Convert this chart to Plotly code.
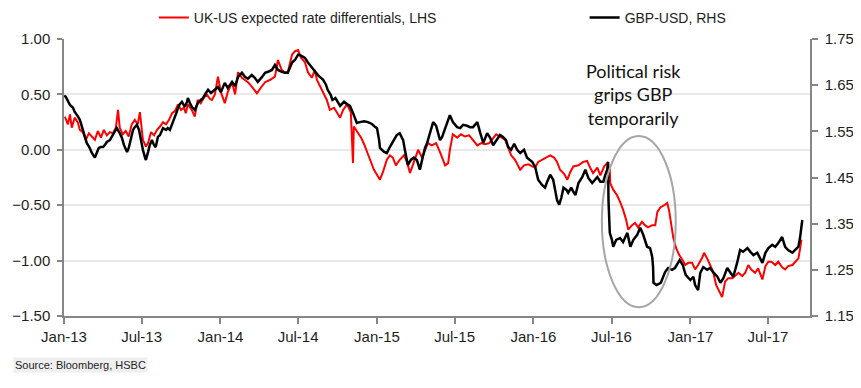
import plotly.graph_objects as go

# UK-US expected rate differentials (LHS, percentage points)
red_dates = [
    "2013-01-03","2013-01-10","2013-01-15","2013-01-19","2013-01-26","2013-02-02","2013-02-07","2013-02-14",
    "2013-02-21","2013-02-28","2013-03-07","2013-03-14","2013-03-21","2013-03-28","2013-04-04","2013-04-11",
    "2013-04-18","2013-04-25","2013-05-02","2013-05-07","2013-05-11","2013-05-18","2013-05-25","2013-06-01",
    "2013-06-08","2013-06-15","2013-06-22","2013-06-27","2013-07-04","2013-07-11","2013-07-16","2013-07-23",
    "2013-07-30","2013-08-06","2013-08-13","2013-08-20","2013-08-27","2013-09-03","2013-09-10","2013-09-17",
    "2013-09-24","2013-10-01","2013-10-08","2013-10-12","2013-10-17","2013-10-26","2013-11-02","2013-11-09",
    "2013-11-16","2013-11-23","2013-11-30","2013-12-07","2013-12-12","2013-12-19","2013-12-26","2014-01-02",
    "2014-01-11","2014-01-18","2014-01-28","2014-02-04","2014-02-11","2014-02-20","2014-02-27","2014-03-06",
    "2014-03-15","2014-03-22","2014-03-27","2014-04-05","2014-04-15","2014-04-26","2014-05-08","2014-05-15",
    "2014-05-24","2014-05-31","2014-06-07","2014-06-17","2014-06-24","2014-07-01","2014-07-08","2014-07-17",
    "2014-07-24","2014-08-02","2014-08-09","2014-08-14","2014-08-26","2014-09-06","2014-09-13","2014-09-23",
    "2014-10-02","2014-10-07","2014-10-14","2014-10-23","2014-11-01","2014-11-06","2014-11-08","2014-11-18",
    "2014-11-25","2014-12-02","2014-12-11","2014-12-18","2014-12-25","2015-01-01","2015-01-08","2015-01-15",
    "2015-01-24","2015-01-31","2015-02-07","2015-02-14","2015-02-23","2015-03-05","2015-03-12","2015-03-19",
    "2015-03-28","2015-04-07","2015-04-16","2015-04-23","2015-04-30","2015-05-09","2015-05-19","2015-05-28",
    "2015-06-04","2015-06-09","2015-06-16","2015-06-20","2015-06-27","2015-07-07","2015-07-16","2015-07-25",
    "2015-08-04","2015-08-13","2015-08-23","2015-09-01","2015-09-10","2015-09-20","2015-09-29","2015-10-06",
    "2015-10-15","2015-10-27","2015-11-03","2015-11-10","2015-11-19","2015-11-26","2015-12-01","2015-12-10",
    "2015-12-20","2015-12-29","2016-01-05","2016-01-12","2016-01-21","2016-01-31","2016-02-09","2016-02-18",
    "2016-02-25","2016-03-03","2016-03-13","2016-03-20","2016-03-27","2016-04-03","2016-04-15","2016-04-26",
    "2016-05-05","2016-05-12","2016-05-19","2016-05-29","2016-06-05","2016-06-14","2016-06-21","2016-06-27",
    "2016-06-28","2016-07-05","2016-07-14","2016-07-21","2016-07-28","2016-08-04","2016-08-09","2016-08-18",
    "2016-08-25","2016-09-01","2016-09-10","2016-09-17","2016-09-24","2016-10-04","2016-10-11","2016-10-16",
    "2016-10-23","2016-11-01","2016-11-08","2016-11-12","2016-11-17","2016-11-22","2016-11-29","2016-12-06",
    "2016-12-13","2016-12-20","2016-12-27","2017-01-05","2017-01-12","2017-01-19","2017-01-29","2017-02-02",
    "2017-02-09","2017-02-16","2017-02-23","2017-03-02","2017-03-09","2017-03-16","2017-03-23","2017-03-30",
    "2017-04-09","2017-04-16","2017-04-23","2017-05-02","2017-05-09","2017-05-16","2017-05-23","2017-06-01",
    "2017-06-08","2017-06-18","2017-06-25","2017-07-02","2017-07-09","2017-07-18","2017-07-25","2017-08-03",
    "2017-08-10","2017-08-17","2017-08-27","2017-09-03","2017-09-10","2017-09-14","2017-09-17",
]
red_values = [
    0.30, 0.23, 0.32, 0.20, 0.29, 0.25, 0.18, 0.16,
    0.09, 0.15, 0.12, 0.09, 0.17, 0.11, 0.18, 0.13,
    0.16, 0.15, 0.20, 0.36, 0.20, 0.14, 0.17, 0.12,
    0.23, 0.27, 0.23, 0.34, 0.09, 0.03, 0.06, 0.16,
    0.13, 0.18, 0.21, 0.25, 0.23, 0.27, 0.33, 0.35,
    0.41, 0.36, 0.38, 0.33, 0.41, 0.36, 0.30, 0.45,
    0.42, 0.47, 0.50, 0.46, 0.45, 0.50, 0.66, 0.52,
    0.42, 0.52, 0.61, 0.50, 0.70, 0.65, 0.63, 0.61,
    0.57, 0.54, 0.51, 0.56, 0.61, 0.63, 0.66, 0.81,
    0.72, 0.70, 0.70, 0.86, 0.89, 0.90, 0.83, 0.79,
    0.70, 0.65, 0.72, 0.63, 0.54, 0.45, 0.36, 0.38,
    0.32, 0.29, 0.36, 0.41, 0.34, -0.12, 0.21, 0.15,
    0.11, 0.05, -0.05, -0.11, -0.18, -0.23, -0.27, -0.20,
    -0.09, -0.05, -0.07, -0.14, -0.09, -0.05, -0.11, -0.21,
    -0.11, 0.00, -0.07, 0.00, 0.06, 0.04, 0.06, -0.02,
    -0.09, -0.14, -0.12, 0.00, 0.14, 0.11, 0.14, 0.12,
    0.13, 0.09, 0.04, 0.06, 0.05, 0.06, 0.11, 0.14,
    0.12, 0.09, 0.02, -0.05, -0.09, -0.14, -0.18, -0.14,
    -0.13, -0.15, -0.16, -0.11, -0.09, -0.07, -0.05, -0.07,
    -0.11, -0.18, -0.22, -0.27, -0.20, -0.15, -0.14, -0.11,
    -0.10, -0.16, -0.21, -0.16, -0.23, -0.15, -0.12, -0.18,
    -0.30, -0.36, -0.41, -0.47, -0.54, -0.63, -0.72, -0.68,
    -0.66, -0.70, -0.65, -0.68, -0.70, -0.68, -0.68, -0.56,
    -0.52, -0.50, -0.48, -0.54, -0.68, -0.79, -0.89, -0.95,
    -0.99, -1.04, -1.02, -1.02, -1.08, -1.04, -0.97, -0.93,
    -0.98, -1.04, -1.10, -1.22, -1.28, -1.33, -1.19, -1.16,
    -1.16, -1.13, -1.11, -1.14, -1.11, -1.04, -1.08, -1.11,
    -1.07, -1.17, -1.05, -1.01, -1.01, -1.04, -1.01, -1.06,
    -1.08, -1.05, -1.04, -1.01, -0.98, -0.89, -0.81,
]

# GBP-USD spot (RHS)
gbp_dates = [
    "2013-01-01","2013-01-05","2013-01-10","2013-01-15","2013-01-22","2013-01-26","2013-02-02","2013-02-07",
    "2013-02-14","2013-02-19","2013-02-23","2013-03-02","2013-03-07","2013-03-14","2013-03-19","2013-03-23",
    "2013-03-28","2013-04-02","2013-04-06","2013-04-11","2013-04-18","2013-04-25","2013-04-30","2013-05-04",
    "2013-05-11","2013-05-16","2013-05-21","2013-05-28","2013-06-01","2013-06-06","2013-06-11","2013-06-15",
    "2013-06-20","2013-06-25","2013-06-29","2013-07-04","2013-07-09","2013-07-11","2013-07-16","2013-07-20",
    "2013-07-25","2013-07-30","2013-08-03","2013-08-08","2013-08-13","2013-08-20","2013-08-27","2013-08-31",
    "2013-09-05","2013-09-10","2013-09-17","2013-09-21","2013-09-24","2013-09-28","2013-10-03","2013-10-10",
    "2013-10-15","2013-10-17","2013-10-22","2013-10-26","2013-11-02","2013-11-09","2013-11-16","2013-11-21",
    "2013-11-28","2013-12-03","2013-12-10","2013-12-19","2013-12-26","2014-01-02","2014-01-11","2014-01-18",
    "2014-01-28","2014-02-04","2014-02-11","2014-02-20","2014-02-27","2014-03-06","2014-03-15","2014-03-22",
    "2014-03-29","2014-04-08","2014-04-15","2014-04-22","2014-05-01","2014-05-08","2014-05-15","2014-05-24",
    "2014-05-31","2014-06-07","2014-06-12","2014-06-17","2014-06-24","2014-07-01","2014-07-08","2014-07-17",
    "2014-07-24","2014-08-02","2014-08-11","2014-08-18","2014-08-28","2014-09-04","2014-09-08","2014-09-15",
    "2014-09-19","2014-09-26","2014-10-07","2014-10-16","2014-10-23","2014-10-30","2014-11-06","2014-11-15",
    "2014-11-22","2014-12-02","2014-12-11","2014-12-20","2014-12-27","2015-01-01","2015-01-06","2015-01-08",
    "2015-01-17","2015-01-24","2015-01-31","2015-02-07","2015-02-16","2015-02-23","2015-03-03","2015-03-07",
    "2015-03-14","2015-03-21","2015-03-28","2015-04-04","2015-04-11","2015-04-18","2015-04-23","2015-04-28",
    "2015-05-05","2015-05-12","2015-05-19","2015-05-28","2015-06-02","2015-06-09","2015-06-16","2015-06-20",
    "2015-06-27","2015-07-07","2015-07-14","2015-07-21","2015-07-30","2015-08-06","2015-08-13","2015-08-23",
    "2015-08-30","2015-09-06","2015-09-15","2015-09-22","2015-09-29","2015-10-08","2015-10-15","2015-10-22",
    "2015-10-29","2015-11-03","2015-11-10","2015-11-17","2015-11-24","2015-12-01","2015-12-10","2015-12-17",
    "2015-12-24","2015-12-29","2016-01-05","2016-01-12","2016-01-21","2016-01-28","2016-02-02","2016-02-09",
    "2016-02-16","2016-02-21","2016-02-25","2016-03-01","2016-03-06","2016-03-11","2016-03-18","2016-03-22",
    "2016-03-29","2016-04-03","2016-04-08","2016-04-15","2016-04-24","2016-05-01","2016-05-08","2016-05-17",
    "2016-05-24","2016-05-29","2016-06-05","2016-06-12","2016-06-16","2016-06-21","2016-06-23","2016-06-24",
    "2016-06-27","2016-07-02","2016-07-05","2016-07-12","2016-07-21","2016-07-28","2016-08-07","2016-08-14",
    "2016-08-21","2016-08-30","2016-09-06","2016-09-13","2016-09-22","2016-09-29","2016-10-04","2016-10-06",
    "2016-10-07","2016-10-14","2016-10-24","2016-11-03","2016-11-10","2016-11-19","2016-11-26","2016-12-03",
    "2016-12-07","2016-12-14","2016-12-21","2017-01-01","2017-01-08","2017-01-12","2017-01-19","2017-01-24",
    "2017-01-31","2017-02-09","2017-02-16","2017-02-23","2017-03-05","2017-03-12","2017-03-19","2017-03-28",
    "2017-04-04","2017-04-11","2017-04-20","2017-04-27","2017-05-04","2017-05-14","2017-05-21","2017-05-28",
    "2017-06-06","2017-06-13","2017-06-18","2017-06-25","2017-07-02","2017-07-11","2017-07-18","2017-07-25",
    "2017-08-03","2017-08-10","2017-08-17","2017-08-27","2017-09-03","2017-09-10","2017-09-14","2017-09-19",
]
gbp_values = [
    1.627, 1.625, 1.616, 1.607, 1.601, 1.592, 1.583, 1.575,
    1.553, 1.540, 1.525, 1.514, 1.503, 1.493, 1.506, 1.514,
    1.516, 1.516, 1.520, 1.527, 1.531, 1.542, 1.549, 1.557,
    1.546, 1.536, 1.520, 1.505, 1.514, 1.531, 1.553, 1.559,
    1.564, 1.553, 1.531, 1.510, 1.493, 1.488, 1.505, 1.520,
    1.531, 1.520, 1.516, 1.538, 1.542, 1.557, 1.553, 1.557,
    1.553, 1.564, 1.579, 1.592, 1.601, 1.609, 1.614, 1.603,
    1.614, 1.622, 1.611, 1.603, 1.596, 1.611, 1.618, 1.622,
    1.633, 1.640, 1.633, 1.640, 1.646, 1.635, 1.655, 1.644,
    1.657, 1.648, 1.668, 1.677, 1.668, 1.664, 1.672, 1.666,
    1.657, 1.668, 1.677, 1.679, 1.683, 1.694, 1.683, 1.679,
    1.677, 1.677, 1.688, 1.699, 1.705, 1.716, 1.714, 1.709,
    1.699, 1.688, 1.679, 1.670, 1.662, 1.651, 1.640, 1.629,
    1.618, 1.622, 1.605, 1.614, 1.609, 1.605, 1.590, 1.568,
    1.570, 1.572, 1.570, 1.566, 1.560, 1.557, 1.531, 1.514,
    1.506, 1.503, 1.516, 1.527, 1.542, 1.546, 1.531, 1.510,
    1.477, 1.488, 1.493, 1.488, 1.467, 1.495, 1.514, 1.525,
    1.547, 1.570, 1.562, 1.531, 1.538, 1.557, 1.575, 1.585,
    1.570, 1.559, 1.557, 1.564, 1.562, 1.559, 1.559, 1.570,
    1.546, 1.525, 1.546, 1.536, 1.520, 1.531, 1.542, 1.538,
    1.531, 1.516, 1.510, 1.523, 1.510, 1.503, 1.510, 1.493,
    1.488, 1.484, 1.473, 1.445, 1.434, 1.428, 1.441, 1.456,
    1.445, 1.423, 1.401, 1.391, 1.406, 1.428, 1.423, 1.417,
    1.428, 1.419, 1.412, 1.438, 1.451, 1.467, 1.449, 1.438,
    1.445, 1.451, 1.441, 1.441, 1.454, 1.467, 1.484, 1.401,
    1.330, 1.315, 1.300, 1.315, 1.319, 1.310, 1.330, 1.300,
    1.315, 1.326, 1.341, 1.326, 1.300, 1.297, 1.278, 1.256,
    1.222, 1.217, 1.222, 1.245, 1.254, 1.250, 1.254, 1.267,
    1.271, 1.261, 1.239, 1.228, 1.235, 1.217, 1.206, 1.243,
    1.256, 1.250, 1.254, 1.245, 1.235, 1.222, 1.232, 1.254,
    1.245, 1.235, 1.265, 1.293, 1.289, 1.297, 1.289, 1.282,
    1.287, 1.276, 1.265, 1.287, 1.297, 1.304, 1.300, 1.308,
    1.321, 1.300, 1.293, 1.287, 1.293, 1.300, 1.321, 1.358,
]

left_range = [-1.5, 1.0]
right_range = [1.15, 1.75]
x_range = ["2013-01-01", "2017-10-07"]

AXIS_GREY = "#868686"
TICK_FONT = dict(family="Liberation Sans, Arial, sans-serif", size=15, color="#1e1e1e")

fig = go.Figure()
fig.add_trace(go.Scatter(
    x=red_dates, y=red_values, mode="lines",
    name="UK-US expected rate differentials, LHS",
    line=dict(color="#ff0000", width=2), legend="legend",
))
fig.add_trace(go.Scatter(
    x=gbp_dates, y=gbp_values, mode="lines", yaxis="y2",
    name="GBP-USD, RHS",
    line=dict(color="#000000", width=2.5), legend="legend2",
))

legend_common = dict(
    orientation="h", xref="container", yref="container",
    yanchor="middle", y=0.974, xanchor="left",
    font=dict(family="Liberation Sans, Arial, sans-serif", size=14, color="#1e1e1e"),
    bgcolor="rgba(0,0,0,0)",
)

# The page adds an 8px body margin, so the figure is 8px smaller than the window.
fig.update_layout(
    width=853, height=380,
    margin=dict(l=56, r=51, t=31, b=72, autoexpand=False),
    paper_bgcolor="white", plot_bgcolor="white",
    showlegend=True,
    legend=dict(x=0.171, **legend_common),
    legend2=dict(x=0.676, **legend_common),
    xaxis=dict(
        type="date", range=x_range, tick0="2013-01-01", dtick="M6", tickformat="%b-%y",
        ticks="outside", ticklen=6, tickcolor=AXIS_GREY, tickwidth=1.5,
        showline=True, linecolor=AXIS_GREY, linewidth=1.5,
        showgrid=False, zeroline=False, tickfont=TICK_FONT, automargin=False,
    ),
    yaxis=dict(
        range=left_range, dtick=0.5, tick0=-1.5, tickformat=".2f",
        ticks="outside", ticklen=5, tickcolor=AXIS_GREY, tickwidth=1.5,
        showline=True, linecolor=AXIS_GREY, linewidth=1.5,
        showgrid=True, gridcolor="#e8e8e8", gridwidth=1.5, zeroline=False,
        tickfont=TICK_FONT, ticklabelstandoff=4, automargin=False,
    ),
    yaxis2=dict(
        range=right_range, dtick=0.1, tick0=1.15, tickformat=".2f",
        overlaying="y", side="right",
        ticks="outside", ticklen=6, tickcolor=AXIS_GREY, tickwidth=1.5,
        showline=True, linecolor=AXIS_GREY, linewidth=1.5,
        showgrid=False, zeroline=False, tickfont=TICK_FONT, ticklabelstandoff=4,
        automargin=False,
    ),
    shapes=[dict(
        type="circle", xref="paper", yref="paper",
        x0=0.721, x1=0.820, y0=0.032, y1=0.650,
        line=dict(color="#a6a6a6", width=2), layer="above",
    )],
    annotations=[
        dict(
            text="Political risk<br>grips GBP<br>temporarily",
            xref="paper", yref="paper", x=0.764, y=0.801,
            xanchor="center", yanchor="middle", showarrow=False,
            font=dict(family="Lato, Open Sans, sans-serif", size=18, color="#111111"),
        ),
        dict(
            text="Source: Bloomberg, HSBC",
            xref="paper", yref="paper", x=-0.068, y=-0.177,
            xanchor="left", yanchor="middle", showarrow=False,
            font=dict(family="Liberation Sans, Arial, sans-serif", size=11, color="#1e1e1e"),
            bgcolor="#efefef", borderpad=1,
        ),
    ],
)

fig.write_html("out.html")
